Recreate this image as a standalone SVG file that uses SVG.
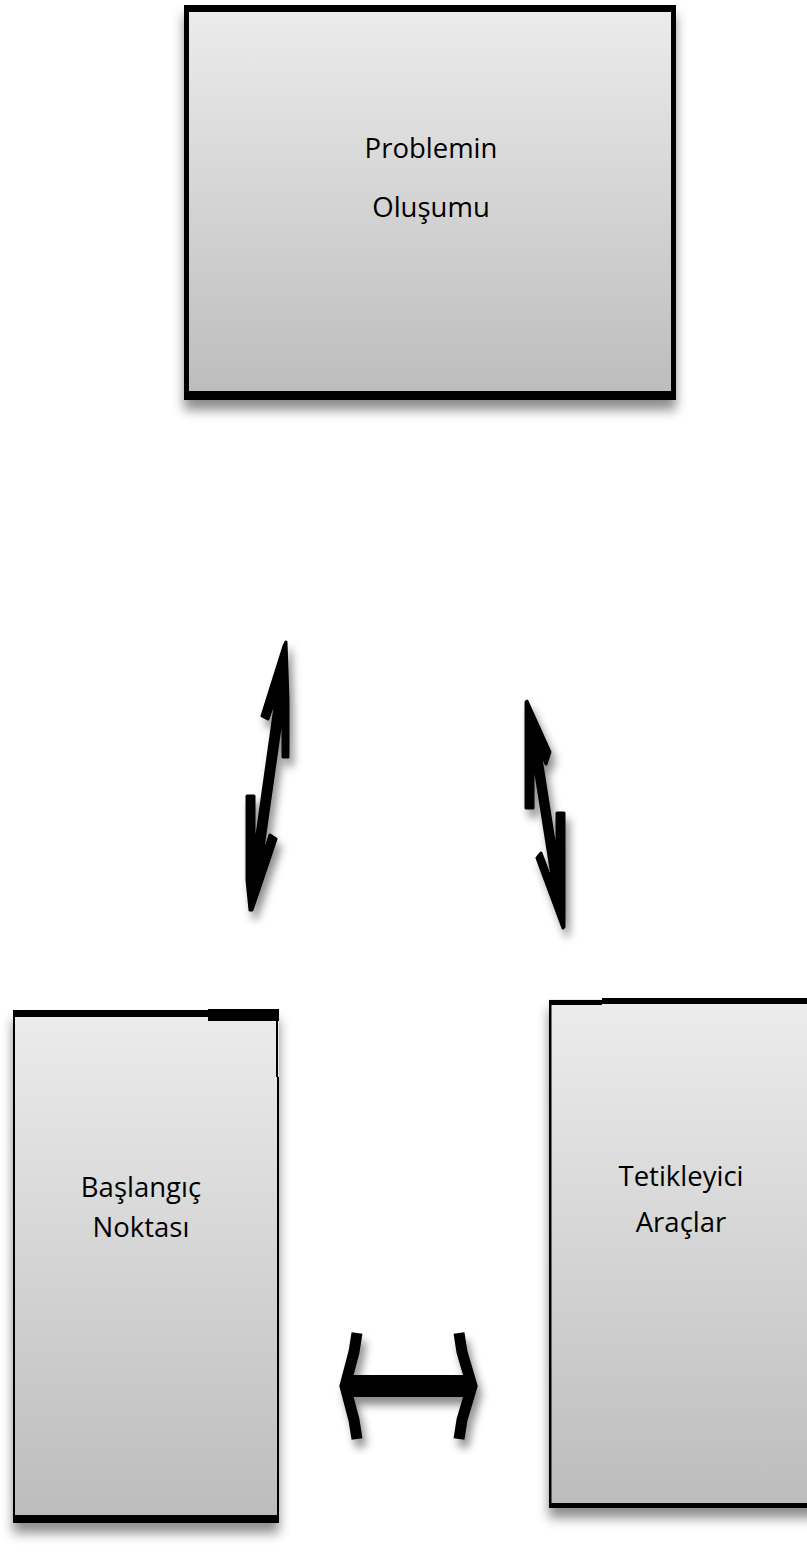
<svg xmlns="http://www.w3.org/2000/svg" width="807" height="1555" viewBox="0 0 807 1555">
<defs>
<linearGradient id="g" x1="0" y1="0" x2="0" y2="1">
<stop offset="0" stop-color="#ececec"/>
<stop offset="1" stop-color="#bcbcbc"/>
</linearGradient>
<filter id="bs" x="-10%" y="-10%" width="120%" height="130%">
<feDropShadow dx="0" dy="10" stdDeviation="6" flood-color="#000" flood-opacity="0.45"/>
</filter>
<filter id="as" x="-50%" y="-20%" width="200%" height="140%">
<feDropShadow dx="4" dy="8" stdDeviation="4" flood-color="#000" flood-opacity="0.45"/>
</filter>
</defs>
<style>
.lbl{font-family:"Open Sans","Liberation Sans",sans-serif;font-size:27.5px;fill:#000;text-anchor:middle}
.bd{fill:#000}
.ap{fill:#000;stroke:#000;stroke-width:3;stroke-linejoin:round}
.ar{fill:none;stroke:#000;stroke-width:11;stroke-linejoin:miter;stroke-miterlimit:12}
</style>
<rect width="807" height="1555" fill="#fff"/>

<g id="node-problem">
<rect x="184" y="5" width="492" height="395" fill="url(#g)" filter="url(#bs)"/>
<rect x="186.5" y="7.5" width="487" height="390" fill="none" stroke="#000" stroke-width="5"/>
<rect class="bd" x="184" y="5" width="492" height="7"/>
<rect class="bd" x="184" y="391" width="492" height="9"/>
<text class="lbl" x="431" y="158">Problemin</text>
<text class="lbl" x="431" y="217">Oluşumu</text>
</g>

<g id="node-baslangic">
<rect x="13" y="1010" width="266" height="513" fill="url(#g)" filter="url(#bs)"/>
<rect class="bd" x="13" y="1010" width="2" height="513"/>
<rect class="bd" x="276" y="1010" width="2" height="67"/>
<rect class="bd" x="277" y="1077" width="2" height="446"/>
<rect class="bd" x="13" y="1010" width="195" height="7"/>
<rect class="bd" x="208" y="1009" width="71" height="12"/>
<rect class="bd" x="13" y="1515" width="266" height="8"/>
<text class="lbl" x="141" y="1197">Başlangıç</text>
<text class="lbl" x="141" y="1237">Noktası</text>
</g>

<g id="node-tetikleyici">
<rect x="549" y="999" width="270" height="509" fill="url(#g)" filter="url(#bs)"/>
<rect class="bd" x="549" y="1000" width="2.5" height="508"/>
<rect class="bd" x="549" y="1000" width="53" height="5"/>
<rect class="bd" x="602" y="998" width="205" height="6"/>
<rect class="bd" x="549" y="1503" width="258" height="5"/>
<text class="lbl" x="681" y="1186">Tetikleyici</text>
<text class="lbl" x="681" y="1232">Araçlar</text>
</g>

<g id="connectors">
<g id="arrow-left" filter="url(#as)">
<polygon class="ap" points="286,642 288,700 288,757 283,757 283,707 261,862 270,835 276,839 252,910 250,910 247,880 247,796 254,796 254,856 277,693 268,719 262,716 284,646"/>
</g>
<g id="arrow-right" filter="url(#as)">
<polygon class="ap" points="527,701 550,752 546,764 539.5,749 557,860 557,813 564,813 564,927 563,928 537,858 541,853 554,888 533,755 533,808 526,808 526,702"/>
</g>
<g id="arrow-bottom" filter="url(#as)">
<rect x="345" y="1375" width="127" height="22" fill="#000"/>
<path class="ar" d="M357,1333 L354,1352 L345,1386 L354,1420 L357,1439"/>
<path class="ar" d="M459,1333 L462,1352 L472,1386 L462,1420 L459,1439"/>
</g>
</g>
</svg>
